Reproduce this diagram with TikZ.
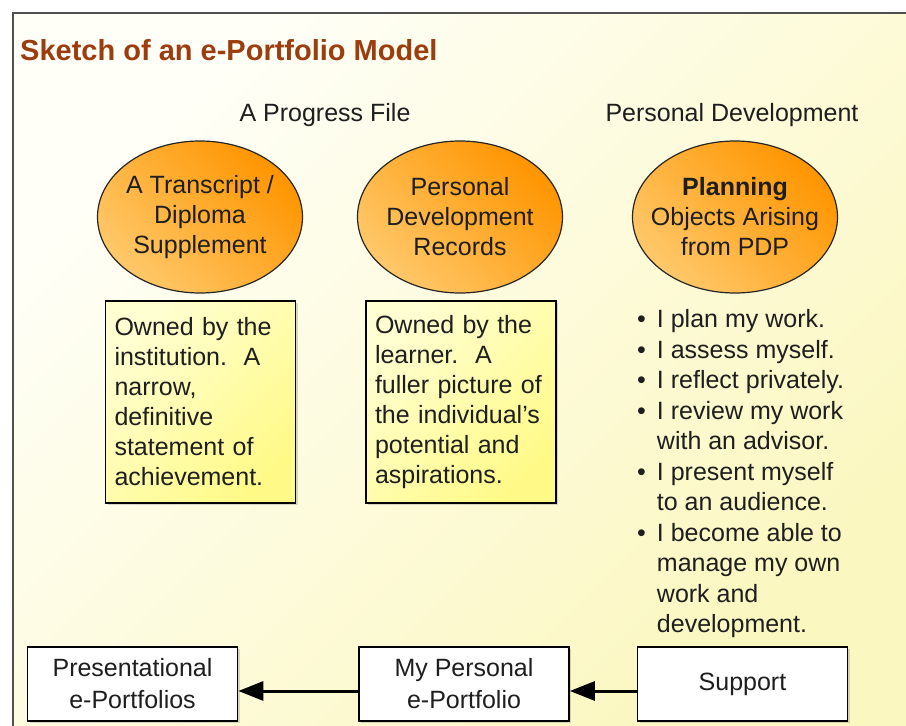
\documentclass[tikz,border=0pt]{standalone}
\usepackage{fontspec}
\setmainfont{Liberation Sans}
\usetikzlibrary{shapes.geometric,arrows.meta,shadows}
\definecolor{titlered}{HTML}{9C3D10}
\definecolor{inkgray}{HTML}{1E1E1E}
\definecolor{framegray}{HTML}{505050}
\definecolor{paperlight}{HTML}{FFFFF8}
\definecolor{paperyellow}{HTML}{FBF7C0}
\definecolor{ovallight}{HTML}{FFC86A}
\definecolor{ovaldark}{HTML}{FF9500}
\definecolor{notelight}{HTML}{FFFFD2}
\definecolor{noteyellow}{HTML}{FFFA88}
\tikzstyle{oval} = [ellipse, minimum width=205pt, minimum height=152pt, inner sep=-30pt,
align=center, draw=black!85, line width=1.2pt, top color=ovaldark, bottom color=ovallight, shading angle=-45]
\tikzstyle{note} = [rectangle, minimum height=202pt, text width=172pt, inner xsep=9pt,
align=left, draw=black, line width=1.8pt, top color=notelight, bottom color=noteyellow, shading angle=45,
drop shadow={shadow xshift=2pt, shadow yshift=-2pt, opacity=0.3}]
\tikzstyle{folder} = [rectangle, minimum width=210pt, minimum height=74pt, align=center,
draw=black, line width=1.8pt, fill=white, font=\fontsize{25}{32}\selectfont,
drop shadow={shadow xshift=2pt, shadow yshift=-2pt, opacity=0.3}]
\tikzstyle{arrow} = [line width=3pt, -{Triangle[length=25pt,width=19pt]}]

\begin{document}
\begin{tikzpicture}[x=1pt, y=-1pt, every node/.style={font=\fontsize{25}{30}\selectfont, text=inkgray}]
\useasboundingbox (0,0) rectangle (906,726);
% paper and frame
\shade[top color=paperlight, bottom color=paperyellow, shading angle=45] (13,13) rectangle (906,726);
\draw[line width=2.5pt, framegray] (13,726) -- (13,13) -- (906,13);

\node (titel) at (20,50) [anchor=west, inner sep=0, text=titlered, font=\fontsize{29}{34}\selectfont\bfseries] {Sketch of an e-Portfolio Model};

\node (progress) at (325,115) {A Progress File};
\node (pd) at (732,115) {Personal Development};

% the three ovals
\node (e1) at (200,217) [oval] {A Transcript /\\ Diploma\\ Supplement};
\node (e2) at (460,217) [oval] {Personal\\ Development\\ Records};
\node (e3) at (735,217) [oval] {\textbf{Planning}\\ Objects Arising\\ from PDP};

\node (n1) at (200.5,402) [note] {Owned by the\\ institution.\ \ A\\ narrow,\\ definitive\\ statement of\\ achievement.};
\node (n2) at (461,402) [note] {Owned by the\\ learner.\ \ A\\ fuller picture of\\ the individual’s\\ potential and\\ aspirations.};

\node (doing) at (637,474) [anchor=west, inner sep=0] {\fontsize{25}{30.5}\selectfont
\begin{tabular}{@{}l@{\hspace{11pt}}l@{}}
\textbullet & I plan my work.\\
\textbullet & I assess myself.\\
\textbullet & I reflect privately.\\
\textbullet & I review my work\\
 & with an advisor.\\
\textbullet & I present myself\\
 & to an audience.\\
\textbullet & I become able to\\
 & manage my own\\
 & work and\\
 & development.
\end{tabular}};

% bottom row
\node (present) at (132.5,684) [folder] {Presentational\\ e-Portfolios};
\node (mine) at (464,684) [folder] {My Personal\\ e-Portfolio};
\node (support) at (742.5,684) [folder] {Support};
\draw [arrow] ([yshift=-7pt]support.west) -- ([yshift=-7pt]mine.east);
\draw [arrow] ([yshift=-7pt]mine.west) -- ([yshift=-7pt]present.east);
\end{tikzpicture}
\end{document}
